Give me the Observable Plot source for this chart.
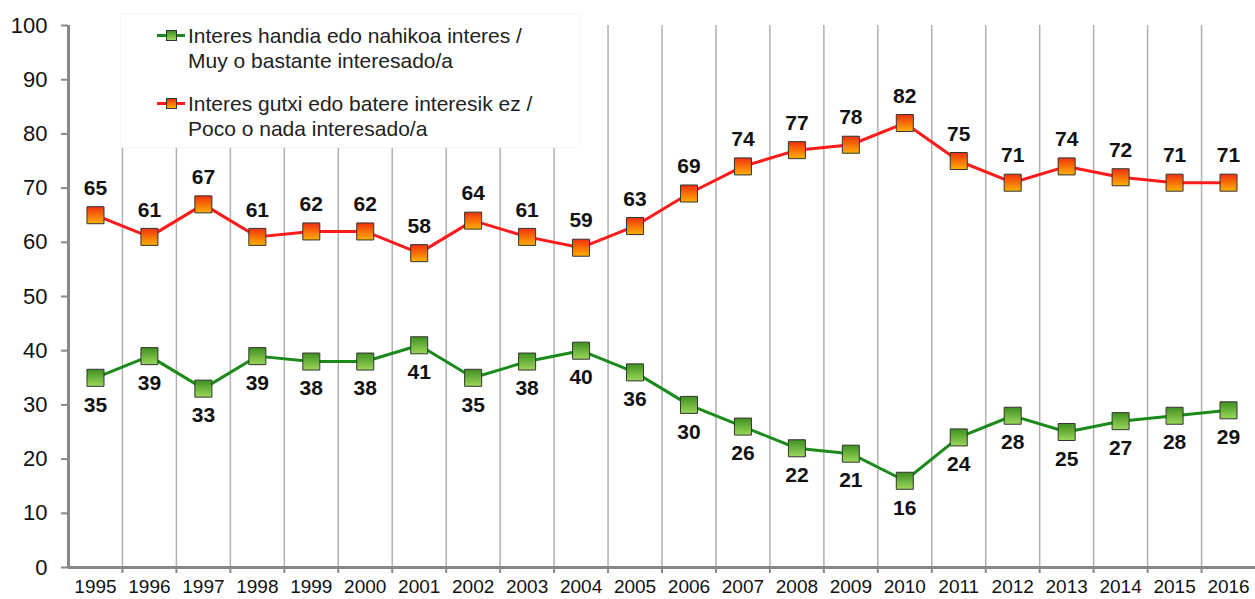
<!DOCTYPE html>
<html>
<head>
<meta charset="utf-8">
<script src="https://cdn.jsdelivr.net/npm/d3@7"></script>
<script src="https://cdn.jsdelivr.net/npm/@observablehq/plot@0.6"></script>
<style>
  body { margin: 0; background: #fff; font-family: "Liberation Sans", Arial, sans-serif; }
  #wrap { position: relative; width: 1255px; height: 599px; }
  #legend { position: absolute; left: 120px; top: 13px; width: 460px; height: 135px; background: #fff; border: 1px solid #f6f6f6; box-sizing: border-box; }
  .item { position: absolute; left: 67px; font-size: 21px; line-height: 25px; color: #222; white-space: nowrap; }
  .sym { position: absolute; left: -31px; top: 11px; width: 28px; height: 3px; }
  .sym i { position: absolute; left: 9px; top: -4px; width: 9px; height: 9px; border: 1px solid #333; }
</style>
</head>
<body>
<div id="wrap">
  <div id="chart"></div>
  <div id="legend">
    <div class="item" style="top:9px">
      <div class="sym" style="background:#1a8a1a"><i style="background:linear-gradient(#3f8f20,#9ad85a)"></i></div>
      Interes handia edo nahikoa interes /<br>Muy o bastante interesado/a
    </div>
    <div class="item" style="top:77px">
      <div class="sym" style="background:#ff1a1a"><i style="background:linear-gradient(#f03010,#ffb000)"></i></div>
      Interes gutxi edo batere interesik ez /<br>Poco o nada interesado/a
    </div>
  </div>
</div>
<script>
const years = [1995,1996,1997,1998,1999,2000,2001,2002,2003,2004,2005,2006,2007,2008,2009,2010,2011,2012,2013,2014,2015,2016];
const poco = [65,61,67,61,62,62,58,64,61,59,63,69,74,77,78,82,75,71,74,72,71,71];
const muy = [35,39,33,39,38,38,41,35,38,40,36,30,26,22,21,16,24,28,25,27,28,29];
const yTicks = [0,10,20,30,40,50,60,70,80,90,100];

const redData = years.map((y, i) => ({year: y, v: poco[i]}));
const greenData = years.map((y, i) => ({year: y, v: muy[i]}));
const boundaries = years.slice(0, -1).map(y => y + 0.5);

const chart = Plot.plot({
  width: 1255,
  height: 599,
  marginLeft: 68,
  marginRight: 0,
  marginTop: 25,
  marginBottom: 32,
  style: {fontFamily: "'Liberation Sans', Arial, sans-serif", background: "#fff"},
  x: {domain: [years[0] - 0.5, years[years.length - 1] + 0.5]},
  y: {domain: [0, 100]},
  marks: [
    Plot.ruleX(boundaries, {stroke: "#b0b0b0", strokeWidth: 1.5}),
    Plot.axisY(yTicks, {tickSize: 7, tickPadding: 14, fontSize: 22, stroke: "#888", strokeWidth: 2, color: "#111", label: null}),
    Plot.axisX(boundaries, {tickSize: 6, tickFormat: () => "", stroke: "#888", strokeWidth: 2, label: null}),
    Plot.axisX(years, {tickSize: 0, tickPadding: 12, fontSize: 19, tickFormat: d => String(d), color: "#111", label: null}),
    Plot.ruleX([years[0] - 0.5], {stroke: "#888", strokeWidth: 3}),
    Plot.ruleY([0], {stroke: "#888", strokeWidth: 3}),
    Plot.line(redData, {x: "year", y: "v", stroke: "#ff1a1a", strokeWidth: 3}),
    Plot.line(greenData, {x: "year", y: "v", stroke: "#1a8a1a", strokeWidth: 3}),
    Plot.dot(redData, {x: "year", y: "v", symbol: "square", r: 9.6, fill: "url(#gradRed)", stroke: "#333", strokeWidth: 1}),
    Plot.dot(greenData, {x: "year", y: "v", symbol: "square", r: 9.6, fill: "url(#gradGreen)", stroke: "#333", strokeWidth: 1}),
    Plot.text(redData, {x: "year", y: "v", text: "v", dy: -27, fontSize: 21, fontWeight: "bold", fill: "#111"}),
    Plot.text(greenData, {x: "year", y: "v", text: "v", dy: 27, fontSize: 21, fontWeight: "bold", fill: "#111"})
  ]
});

const ns = "http://www.w3.org/2000/svg";
const defs = document.createElementNS(ns, "defs");
function grad(id, top, bottom) {
  const g = document.createElementNS(ns, "linearGradient");
  g.setAttribute("id", id);
  g.setAttribute("x1", "0"); g.setAttribute("y1", "0");
  g.setAttribute("x2", "0"); g.setAttribute("y2", "1");
  [[0, top], [1, bottom]].forEach(([o, c]) => {
    const s = document.createElementNS(ns, "stop");
    s.setAttribute("offset", o);
    s.setAttribute("stop-color", c);
    g.appendChild(s);
  });
  defs.appendChild(g);
}
grad("gradRed", "#f03010", "#ffb000");
grad("gradGreen", "#3f8f20", "#9ad85a");
chart.insertBefore(defs, chart.firstChild);
document.getElementById("chart").appendChild(chart);
</script>
</body>
</html>
